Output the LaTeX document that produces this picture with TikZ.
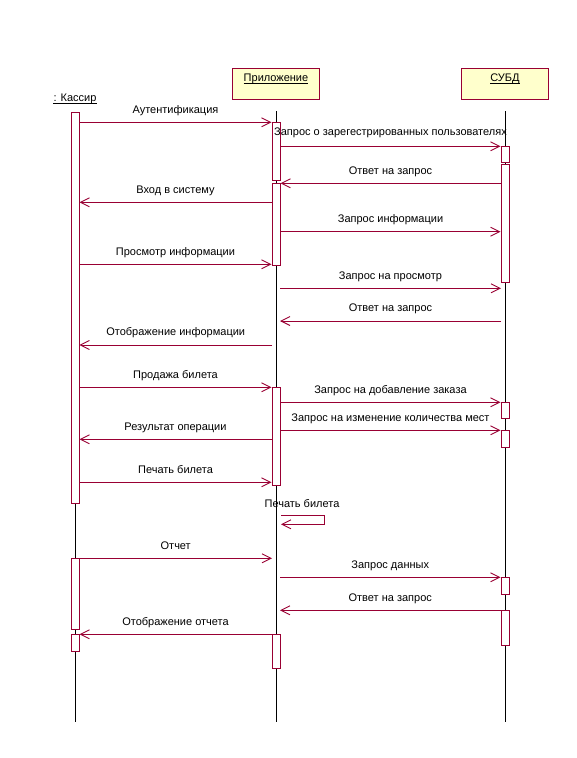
\documentclass[tikz,border=0pt]{standalone}
\usepackage{fontspec}
\setmainfont{Liberation Sans}
\usetikzlibrary{arrows.meta}
\definecolor{umlred}{RGB}{153,0,51}
\definecolor{umlfill}{RGB}{255,255,204}
\begin{document}
\begin{tikzpicture}[x=1pt,y=-1pt,
  font=\fontsize{11}{13}\selectfont,
  life/.style={black, line width=0.8pt},
  act/.style={draw=umlred, fill=white, line width=0.9pt, minimum width=8pt, inner sep=0pt, anchor=north},
  obj/.style={draw=umlred, fill=umlfill, line width=0.9pt, minimum width=87pt, minimum height=31pt, inner sep=0pt},
  msg/.style={umlred, line width=0.9pt, -{Straight Barb[length=9pt,width=9pt]}},
  lbl/.style={anchor=base, yshift=9.3pt, inner sep=0pt, text=black},
  objtext/.style={anchor=base, inner sep=0pt, text=black},
  uline/.style={black, line width=0.7pt},
]
\useasboundingbox (0,0) rectangle (576,758);
% headers
\node[obj] (app) at (276,83.5) {};
\node[obj] (dbms) at (505,83.5) {};
\node[objtext] (appl) at (276,81.7) {Приложение};
\node[objtext] (dbmsl) at (505,81.7) {СУБД};
\node[objtext] (kas) at (75,101.7) {: Кассир};
\draw[uline] ([yshift=-1.8pt]appl.base west) -- ([yshift=-1.8pt]appl.base east);
\draw[uline] ([yshift=-1.8pt]dbmsl.base west) -- ([yshift=-1.8pt]dbmsl.base east);
\draw[uline] ([yshift=-1.2pt]kas.base west) -- ([yshift=-1.2pt]kas.base east);
% lifeline coordinates
\coordinate (K) at (75,0);
\coordinate (Kr) at (79,0);
\coordinate (A) at (276,0);
\coordinate (Al) at (272,0);
\coordinate (Ar) at (280,0);
\coordinate (S) at (505,0);
\coordinate (Sl) at (501,0);
% lifelines
\draw[life] (K |- 0,112) -- (K |- 0,722);
\draw[life] (A |- 0,111) -- (A |- 0,722);
\draw[life] (S |- 0,111) -- (S |- 0,722);
% activations
\node[act, minimum height=391pt] (k1) at (75,112) {};
\node[act, minimum height=71pt] (k2) at (75,558.3) {};
\node[act, minimum height=17pt] (k3) at (75,634.3) {};
\node[act, minimum height=58pt] (a1) at (276,122.3) {};
\node[act, minimum height=82pt] (a2) at (276,183.3) {};
\node[act, minimum height=98pt] (a3) at (276,387.3) {};
\node[act, minimum height=34pt] (a4) at (276,634.3) {};
\node[act, minimum height=16pt] (s1) at (505,146.3) {};
\node[act, minimum height=118pt] (s2) at (505,164.3) {};
\node[act, minimum height=16pt] (s3) at (505,402.3) {};
\node[act, minimum height=17pt] (s4) at (505,430.3) {};
\node[act, minimum height=17pt] (s5) at (505,577.3) {};
\node[act, minimum height=35pt] (s6) at (505,610.3) {};
% messages
\draw[msg] (k1.east |- 0,122.3) -- node[lbl] (l1) {Аутентификация} (a1.west |- 0,122.3);
\draw[msg] (a1.east |- 0,146.3) -- node[lbl, yshift=1.7pt] (l2) {Запрос о зарегестрированных пользователях} (s1.west |- 0,146.3);
\draw[msg] (s2.west |- 0,183.3) -- node[lbl] (l3) {Ответ на запрос} (a2.east |- 0,183.3);
\draw[msg] (a2.west |- 0,202.3) -- node[lbl] (l4) {Вход в систему} (k1.east |- 0,202.3);
\draw[msg] (a2.east |- 0,231.7) -- node[lbl] (l5) {Запрос информации} (s2.west |- 0,231.7);
\draw[msg] (k1.east |- 0,264.3) -- node[lbl] (l6) {Просмотр информации} (a2.west |- 0,264.3);
\draw[msg] (Ar |- 0,288.3) -- node[lbl] (l7) {Запрос на просмотр} (Sl |- 0,288.3);
\draw[msg] (Sl |- 0,321) -- node[lbl] (l8) {Ответ на запрос} (Ar |- 0,321);
\draw[msg] (Al |- 0,345) -- node[lbl] (l9) {Отображение информации} (k1.east |- 0,345);
\draw[msg] (k1.east |- 0,387.3) -- node[lbl] (l10) {Продажа билета} (a3.west |- 0,387.3);
\draw[msg] (a3.east |- 0,402.3) -- node[lbl] (l11) {Запрос на добавление заказа} (s3.west |- 0,402.3);
\draw[msg] (a3.east |- 0,430.3) -- node[lbl] (l12) {Запрос на изменение количества мест} (s4.west |- 0,430.3);
\draw[msg] (a3.west |- 0,439.3) -- node[lbl] (l13) {Результат операции} (k1.east |- 0,439.3);
\draw[msg] (k1.east |- 0,482.3) -- node[lbl] (l14) {Печать билета} (a3.west |- 0,482.3);
% self message
\coordinate (self1) at (324.3,515);
\coordinate (self2) at (324.3,524.3);
\draw[msg] ([xshift=1pt]Ar |- self1) -- (self1) -- (self2) -- ([xshift=1pt]Ar |- self2);
\node[objtext] (l15) at (302,507.3) {Печать билета};
\draw[msg] (k2.east |- 0,558.3) -- node[lbl] (l16) {Отчет} (Al |- 0,558.3);
\draw[msg] (Ar |- 0,577.3) -- node[lbl] (l17) {Запрос данных} (s5.west |- 0,577.3);
\draw[msg] (s6.west |- 0,610.3) -- node[lbl] (l18) {Ответ на запрос} (Ar |- 0,610.3);
\draw[msg] (a4.west |- 0,634.3) -- node[lbl] (l19) {Отображение отчета} (k3.east |- 0,634.3);
\end{tikzpicture}
\end{document}
